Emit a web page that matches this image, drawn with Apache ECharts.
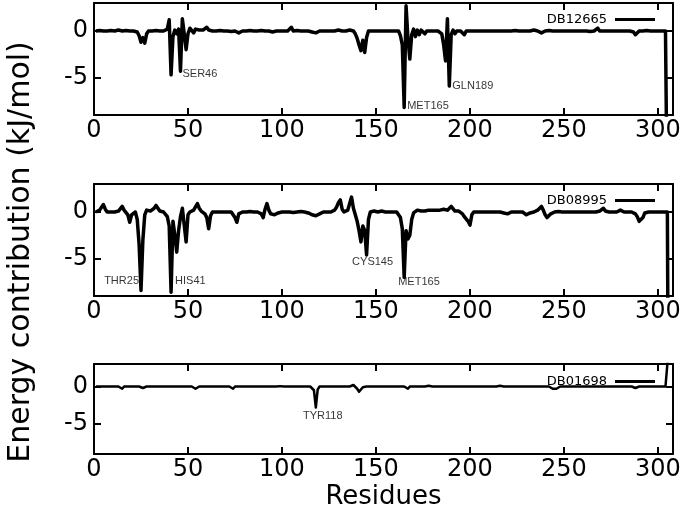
<!DOCTYPE html>
<html><head><meta charset="utf-8">
<script src="https://cdn.jsdelivr.net/npm/echarts@6/dist/echarts.min.js"></script>
<style>html,body{margin:0;padding:0;background:#fff}#c{width:688px;height:511px}</style>
</head><body><div id="c"></div>
<script>
const residues = [
1,2,3,4,5,6,7,8,9,10,11,12,13,14,15,16,17,18,19,20,
21,22,23,24,25,26,27,28,29,30,31,32,33,34,35,36,37,38,39,40,
41,42,43,44,45,46,47,48,49,50,51,52,53,54,55,56,57,58,59,60,
61,62,63,64,65,66,67,68,69,70,71,72,73,74,75,76,77,78,79,80,
81,82,83,84,85,86,87,88,89,90,91,92,93,94,95,96,97,98,99,100,
101,102,103,104,105,106,107,108,109,110,111,112,113,114,115,116,117,118,119,120,
121,122,123,124,125,126,127,128,129,130,131,132,133,134,135,136,137,138,139,140,
141,142,143,144,145,146,147,148,149,150,151,152,153,154,155,156,157,158,159,160,
161,162,163,164,165,166,167,168,169,170,171,172,173,174,175,176,177,178,179,180,
181,182,183,184,185,186,187,188,189,190,191,192,193,194,195,196,197,198,199,200,
201,202,203,204,205,206,207,208,209,210,211,212,213,214,215,216,217,218,219,220,
221,222,223,224,225,226,227,228,229,230,231,232,233,234,235,236,237,238,239,240,
241,242,243,244,245,246,247,248,249,250,251,252,253,254,255,256,257,258,259,260,
261,262,263,264,265,266,267,268,269,270,271,272,273,274,275,276,277,278,279,280,
281,282,283,284,285,286,287,288,289,290,291,292,293,294,295,296,297,298,299,300,
301,302,303,304,305,306];

const db12665 = [
0,0,0.05,0,0,0.1,0,0,0.05,0,
0,0,0.1,0,0,0,0.05,0,0,0,
0,0,-0.1,-0.5,-1.2,-0.7,-1.3,-0.3,0,0,
0,0,0.05,0,0,0,0,0.1,0.2,1.2,
-4.7,-0.6,0.1,-0.3,0.2,-4.3,1.3,-0.3,-2.0,-0.3,
0.3,0.1,-0.2,0.2,0.3,0.1,0,0.1,0.2,0.4,
0.1,0,0,-0.05,0,0,0.05,0,0,0,
0,0,-0.05,0,0,0,-0.2,0,0,0,
0,0,0.05,0,0,-0.05,0,0,0.05,0,
0,0.2,0,0.05,-0.1,0,0,0.05,0,-0.1,
0,0.05,0,0,0.4,0,0,0.05,0,0,
0,0,0,0,0,-0.1,-0.2,-0.2,-0.1,0,
0,0,0,0,0,0,0,0,0.05,0.1,
0.3,0,0,0,0,0.1,0.3,0,-0.3,-0.8,
-1.5,-2.1,-1.0,-2.3,-0.7,0,0,0,0,0,
0,0,0,0,0,0,0,0,0,0,
0,0,-0.5,-1.5,-8.2,2.7,-0.8,-3.0,-0.4,0.2,
-0.6,0.1,-0.4,0.1,0,-0.3,0,0,0,0,
0,0,0,0,-0.3,-1.5,-3.2,1.3,-5.9,-0.4,
0.1,-0.3,0,0,0,0,-0.4,0,0,0,
0,0,0,0,0,0,0,0,0,0,
0,0,0.05,0,0,0,0,0,0.05,0,
0,0,0,0.05,0,0,-0.05,0,0,0,
0,0,0,0.1,0.3,0,0,-0.2,-0.4,0,
0,0.05,0,0,0,0,0,0,0,0,
0,0,0,0,-0.05,0,0,0,0,0,
0,0,0,-0.05,0,0,0.1,0.3,0,0,
0,0,0,0,0,0,0,0,0,0,
0,0,0,0,0,0,-0.1,-0.4,-0.3,0,
0,0,0,0.05,0,0,0,0,0,0,
0,0,0,0,0,-40];

const db08995 = [
0,0.1,0.2,0.5,0.8,0.3,0,0.05,0,0,
0,0,0.1,0.3,0.6,0.2,0,-0.3,-1.1,-0.3,
-0.1,0,-0.8,-3.5,-8.4,-3.0,-0.3,0.2,0.1,0.1,
0.2,0.4,0.7,0.4,0.1,0,0,0,-0.5,-1.5,
-8.6,-1.0,-2.5,-4.3,-2.0,-0.5,0.4,0.3,-3.2,-0.3,
0,0.1,0.2,0.4,0.9,0.4,0.1,0,-0.2,-0.6,
-1.8,-0.4,0,0.1,0,0,0,0.05,0,0,
0,0,0,-0.2,-0.6,-1.1,-0.2,0,0,0,
0,0,0.05,0,0,-0.05,0,0,-0.2,-0.6,
0.3,0.9,0.2,-0.2,-0.1,-0.3,-0.5,-0.1,0,0,
-0.1,0,0.05,0,0,-0.05,0,0,0,0.05,
0,0,0,-0.1,-0.2,-0.3,-0.3,-0.4,-0.5,-0.2,
0,0,0,0,0,0,0.05,0.2,0.5,1.0,
1.3,0.3,0,0,0.2,0.9,1.6,0.4,-0.3,-1.0,
-2.0,-3.2,-1.5,-2.0,-4.6,-0.8,0,0,0.1,0,
0,0,0.1,0,0,0,0,0,0,0,
0,-0.2,-0.6,-1.8,-7.0,-2.0,-2.9,-2.5,-0.8,-0.1,
0.1,0.2,0,0.1,0.2,0.1,0.1,0.2,0.3,0.2,
0.4,0.2,0.1,0.2,0.3,0.3,0.1,0.2,0.4,0.6,
0.4,0.1,0,0.1,0,-0.2,-0.5,-0.3,-1.0,-1.4,
-0.3,0,0,0,0,0,0.05,0,0,0,
0,0,0,0,0.1,0,0,-0.1,-0.3,-0.2,
0,0,0,0,0,0,0,0,-0.2,-0.3,
-0.4,-0.1,0,0,0.1,0.2,0.3,0.6,0.2,-0.3,
-0.6,-0.8,-0.2,0,0,0,0.05,0,0,0,
0,0,0,0,0,0,0,0,0,0,
0,0,0,0,0,-0.2,0,0,0.1,0.3,
0.4,0.1,0,0,0,0,0,0,0.1,0.2,
0.2,0,0,0,0,0,0,-0.2,-0.5,-1.0,
-1.1,-0.6,-0.1,0,0,0,0,0,0,0,
0,0,0,0,0,-40];

const db01698 = [
0,0,0,0,0,0,0,0,0,0,
0,0,0,-0.1,-0.3,0,0,0,0,0,
0,0,0,0,0,-0.2,0,0,0,0,
0,0,-0.2,0,0,0,0,0,0,0,
0,0,0,0,0,0,0,0,0,0,
0,0,0,-0.3,-0.1,0,0,0,0,0,
0,0,0,0,0,0,0,0,0,0,
0,0,0,-0.3,0,0,0,0,0,0,
0,0,0,0,0,0,0,0,0,0,
0,0,0,0,0,0,0,0,0.05,0,
0,0,0,0,0,0,0,0,0,0,
0,0,0,0,0,0,-0.5,-2.8,-0.4,0,
0,0,0,0,0,0,0,0,0,0,
0,0,0,0,0,0,0.1,0.2,0,-0.3,
-0.7,-0.4,-0.1,0,0,0,0,0,0,0,
0,0,0,0,0,0,0,0,0,0,
0,0,0,0,0,0,-0.3,0,0,0,
0,0,0,0,0,0,0,0.1,0,0,
0,0,0,0,0,0,0,0,0,0,
0,0,0,0,0,0,0,0,0,0,
0,0,0,0,0,0,0,0,0,0,
0,0,0,0,0,0.1,0,0,0,0,
0,0,0,0,0,0,0,0,0,0,
0,0,0,0,0,0,0,0,0,0,
0,0,0,-0.3,-0.1,-0.3,-0.2,0,0,0,
0,0,0,0,0,0,0,0,0,0,
0,0,0,0,0,0,0,0,0,0,
0,0,0,0,0,0,0,0,0,0,
0,0,0,0,0,0,0,-0.2,0,0,
0,0,0,0,0,0,0,0,0,0,
0,0,0,0,0,6];

const seriesNames = ['DB12665', 'DB08995', 'DB01698'];
const xTicks = [0, 50, 100, 150, 200, 250, 300];
const yTicks = [-5, 0];

const ann1Names = ['SER46', 'MET165', 'GLN189'];
const ann1Residues = [46, 165, 189];
const ann2Names = ['THR25', 'HIS41', 'CYS145', 'MET165'];
const ann2Residues = [25, 41, 145, 165];
const ann3Names = ['TYR118'];
const ann3Residues = [118];

// label placement styles (presentation only)
const labelStyles = [
  [{position:'right',distance:2,offset:[0,3]},{position:'right',distance:3,offset:[0,-2]},{position:'right',distance:3,offset:[0,0]}],
  [{position:'left',distance:2,offset:[0,-9]},{position:'right',distance:4,offset:[0,-11]},{position:'bottom',distance:2,offset:[6,0]},{position:'right',distance:-6,offset:[0,5]}],
  [{position:'bottom',distance:3,offset:[7,0]}]
];

const allValues = [db12665, db08995, db01698];
const annNames = [ann1Names, ann2Names, ann3Names];
const annRes = [ann1Residues, ann2Residues, ann3Residues];
const grids = [
  {left:94, right:15, top:3, height:112},
  {left:94, right:15, top:184, height:112},
  {left:94, right:15, top:364, height:93}
];
const legendTops = [8, 189, 370];
const lineWidths = [3.5, 3.5, 2.5];

const axisLineStyle = {show:true, onZero:false, lineStyle:{color:'#000', width:2}};
const tickStyle = {color:'#000', width:2};
const xAxes = [], yAxes = [], series = [], legends = [];
for (let i = 0; i < 3; i++) {
  const base = {gridIndex:i, type:'value', min:0, max:308, splitLine:{show:false}, axisLine:axisLineStyle};
  xAxes.push(Object.assign({}, base, {
    position:'bottom',
    axisTick:{show:true, inside:true, length:7, lineStyle:tickStyle, customValues:xTicks},
    axisLabel:{show:true, customValues:xTicks, fontSize:24, color:'#000', fontFamily:'DejaVu Sans', margin:4},
    name: i === 2 ? 'Residues' : '', nameLocation:'middle', nameGap:30,
    nameTextStyle:{fontSize:26, color:'#000', fontFamily:'DejaVu Sans'}
  }));
  xAxes.push(Object.assign({}, base, {
    position:'top',
    axisTick:{show:true, inside:true, length:7, lineStyle:tickStyle, customValues:xTicks},
    axisLabel:{show:false}
  }));
  const ybase = {gridIndex:i, type:'value', min:-9, max:3, splitLine:{show:false}, axisLine:axisLineStyle};
  yAxes.push(Object.assign({}, ybase, {
    position:'left',
    axisTick:{show:true, inside:true, length:7, lineStyle:tickStyle, customValues:yTicks},
    axisLabel:{show:true, customValues:yTicks, fontSize:24, color:'#000', fontFamily:'DejaVu Sans', margin:6}
  }));
  yAxes.push(Object.assign({}, ybase, {
    position:'right',
    axisTick:{show:true, inside:true, length:7, lineStyle:tickStyle, customValues:yTicks},
    axisLabel:{show:false}
  }));
  const vals = allValues[i];
  series.push({
    name: seriesNames[i], type:'line', xAxisIndex:2*i, yAxisIndex:2*i,
    data: residues.map((r, k) => [r, vals[k]]),
    symbol:'none', showSymbol:false, clip:true,
    lineStyle:{color:'#000', width:lineWidths[i], join:'round'},
    itemStyle:{color:'#000'}, animation:false
  });
  series.push({
    type:'scatter', xAxisIndex:2*i, yAxisIndex:2*i, symbolSize:0, silent:true, z:5,
    data: annNames[i].map((n, k) => {
      const r = annRes[i][k];
      const v = vals[residues.indexOf(r)];
      const st = labelStyles[i][k];
      return {name:n, value:[r, v], label:Object.assign({show:true, formatter:n, fontSize:11, color:'#000', fontFamily:'Liberation Sans'}, st)};
    }),
    animation:false
  });
  legends.push({
    data:[seriesNames[i]], right:28, top:legendTops[i], align:'right', icon:'rect',
    itemWidth:40, itemHeight:3, selectedMode:false,
    textStyle:{fontSize:13, color:'#000', fontFamily:'DejaVu Sans', padding:[0,3,0,0]}
  });
}

const chart = echarts.init(document.getElementById('c'), null, {renderer:'canvas'});
chart.setOption({
  backgroundColor:'#fff',
  animation:false,
  grid: grids,
  xAxis: xAxes,
  yAxis: yAxes,
  legend: legends,
  series: series,
  graphic: [{
    type:'text', x:21, y:252, rotation:Math.PI/2,
    style:{text:'Energy contribution (kJ/mol)', fontSize:30, fontFamily:'DejaVu Sans', fill:'#000', align:'center', verticalAlign:'middle'}
  }]
});
</script></body></html>
